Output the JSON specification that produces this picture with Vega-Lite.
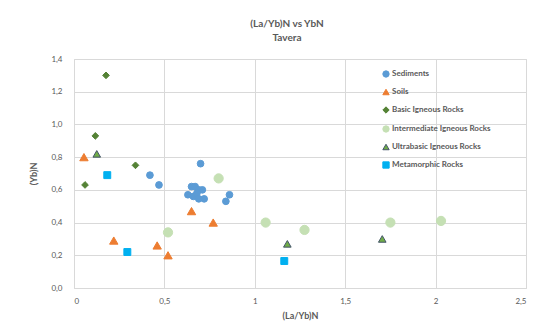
{
  "$schema": "https://vega.github.io/schema/vega-lite/v6.json",
  "autosize": {"type": "none"},
  "width": 452,
  "height": 229,
  "padding": {"left": 74, "top": 59, "right": 34, "bottom": 37},
  "background": "white",
  "title": {
    "text": "(La/Yb)N vs YbN",
    "subtitle": "Tavera",
    "anchor": "middle",
    "dx": -13,
    "offset": 12,
    "font": "Lato",
    "fontSize": 10,
    "fontWeight": "bold",
    "color": "#595959",
    "subtitleFont": "Lato",
    "subtitleFontSize": 10,
    "subtitleFontWeight": "bold",
    "subtitleColor": "#595959",
    "subtitlePadding": 4
  },
  "data": {
    "values": [
      {"type": "Sediments", "x": 0.42, "y": 0.69},
      {"type": "Sediments", "x": 0.47, "y": 0.63},
      {"type": "Sediments", "x": 0.70, "y": 0.76},
      {"type": "Sediments", "x": 0.65, "y": 0.62},
      {"type": "Sediments", "x": 0.67, "y": 0.62},
      {"type": "Sediments", "x": 0.69, "y": 0.60},
      {"type": "Sediments", "x": 0.71, "y": 0.60},
      {"type": "Sediments", "x": 0.63, "y": 0.57},
      {"type": "Sediments", "x": 0.66, "y": 0.56},
      {"type": "Sediments", "x": 0.68, "y": 0.58},
      {"type": "Sediments", "x": 0.69, "y": 0.545},
      {"type": "Sediments", "x": 0.72, "y": 0.545},
      {"type": "Sediments", "x": 0.86, "y": 0.57},
      {"type": "Sediments", "x": 0.84, "y": 0.53},
      {"type": "Soils", "x": 0.055, "y": 0.80},
      {"type": "Soils", "x": 0.22, "y": 0.29},
      {"type": "Soils", "x": 0.46, "y": 0.26},
      {"type": "Soils", "x": 0.52, "y": 0.20},
      {"type": "Soils", "x": 0.65, "y": 0.47},
      {"type": "Soils", "x": 0.77, "y": 0.40},
      {"type": "Basic Igneous Rocks", "x": 0.177, "y": 1.30},
      {"type": "Basic Igneous Rocks", "x": 0.118, "y": 0.93},
      {"type": "Basic Igneous Rocks", "x": 0.34, "y": 0.75},
      {"type": "Basic Igneous Rocks", "x": 0.061, "y": 0.63},
      {"type": "Intermediate Igneous Rocks", "x": 0.80, "y": 0.67},
      {"type": "Intermediate Igneous Rocks", "x": 0.52, "y": 0.34},
      {"type": "Intermediate Igneous Rocks", "x": 1.06, "y": 0.40},
      {"type": "Intermediate Igneous Rocks", "x": 1.275, "y": 0.355},
      {"type": "Intermediate Igneous Rocks", "x": 1.75, "y": 0.40},
      {"type": "Intermediate Igneous Rocks", "x": 2.03, "y": 0.41},
      {"type": "Ultrabasic Igneous Rocks", "x": 0.126, "y": 0.82},
      {"type": "Ultrabasic Igneous Rocks", "x": 1.18, "y": 0.27},
      {"type": "Ultrabasic Igneous Rocks", "x": 1.705, "y": 0.30},
      {"type": "Metamorphic Rocks", "x": 0.184, "y": 0.69},
      {"type": "Metamorphic Rocks", "x": 0.295, "y": 0.22},
      {"type": "Metamorphic Rocks", "x": 1.163, "y": 0.165}
    ]
  },
  "mark": {"type": "point", "filled": true, "opacity": 1, "strokeWidth": 1},
  "encoding": {
    "x": {
      "field": "x", "type": "quantitative",
      "scale": {"domain": [0, 2.5], "nice": false},
      "axis": {
        "title": "(La/Yb)N",
        "values": [0, 0.5, 1, 1.5, 2, 2.5],
        "labelExpr": "replace(format(datum.value, '~'), '.', ',')",
        "grid": true, "gridColor": "#D9D9D9",
        "domain": false, "ticks": false,
        "labelPadding": 9,
        "titlePadding": 6
      }
    },
    "y": {
      "field": "y", "type": "quantitative",
      "scale": {"domain": [0, 1.4], "nice": false},
      "axis": {
        "title": "(Yb)N",
        "values": [0, 0.2, 0.4, 0.6, 0.8, 1.0, 1.2, 1.4],
        "labelExpr": "replace(format(datum.value, '.1f'), '.', ',')",
        "grid": true, "gridColor": "#D9D9D9",
        "domain": false, "ticks": false,
        "labelPadding": 12,
        "titlePadding": 12
      }
    },
    "color": {
      "field": "type", "type": "nominal",
      "scale": {
        "domain": ["Sediments", "Soils", "Basic Igneous Rocks", "Intermediate Igneous Rocks", "Ultrabasic Igneous Rocks", "Metamorphic Rocks"],
        "range": ["#5B9BD5", "#ED7D31", "#548235", "#C5E0B4", "#70AD47", "#00B0F0"]
      },
      "legend": {"title": null}
    },
    "stroke": {
      "field": "type", "type": "nominal",
      "scale": {
        "domain": ["Sediments", "Soils", "Basic Igneous Rocks", "Intermediate Igneous Rocks", "Ultrabasic Igneous Rocks", "Metamorphic Rocks"],
        "range": ["#5B9BD5", "#ED7D31", "#548235", "#C5E0B4", "#44546A", "#00B0F0"]
      },
      "legend": {"title": null}
    },
    "shape": {
      "field": "type", "type": "nominal",
      "scale": {
        "domain": ["Sediments", "Soils", "Basic Igneous Rocks", "Intermediate Igneous Rocks", "Ultrabasic Igneous Rocks", "Metamorphic Rocks"],
        "range": ["circle", "triangle-up", "diamond", "circle", "triangle-up", "square"]
      },
      "legend": {"title": null}
    },
    "size": {
      "condition": [
        {"test": "datum.type === 'Sediments'", "value": 45},
        {"test": "datum.type === 'Soils'", "value": 70},
        {"test": "datum.type === 'Basic Igneous Rocks'", "value": 45},
        {"test": "datum.type === 'Intermediate Igneous Rocks'", "value": 85},
        {"test": "datum.type === 'Ultrabasic Igneous Rocks'", "value": 58}
      ],
      "value": 48
    }
  },
  "config": {
    "view": {"stroke": "#D9D9D9"},
    "axis": {
      "labelFont": "Lato", "labelFontSize": 8, "labelColor": "#595959",
      "titleFont": "Lato", "titleFontSize": 9, "titleFontWeight": "bold", "titleColor": "#595959"
    },
    "legend": {
      "orient": "none",
      "legendX": 308,
      "legendY": 11,
      "labelFont": "Lato",
      "labelFontSize": 8,
      "labelFontWeight": "bold",
      "labelColor": "#595959",
      "rowPadding": 7,
      "symbolSize": 40,
      "symbolStrokeWidth": 1,
      "labelOffset": 2
    }
  }
}
